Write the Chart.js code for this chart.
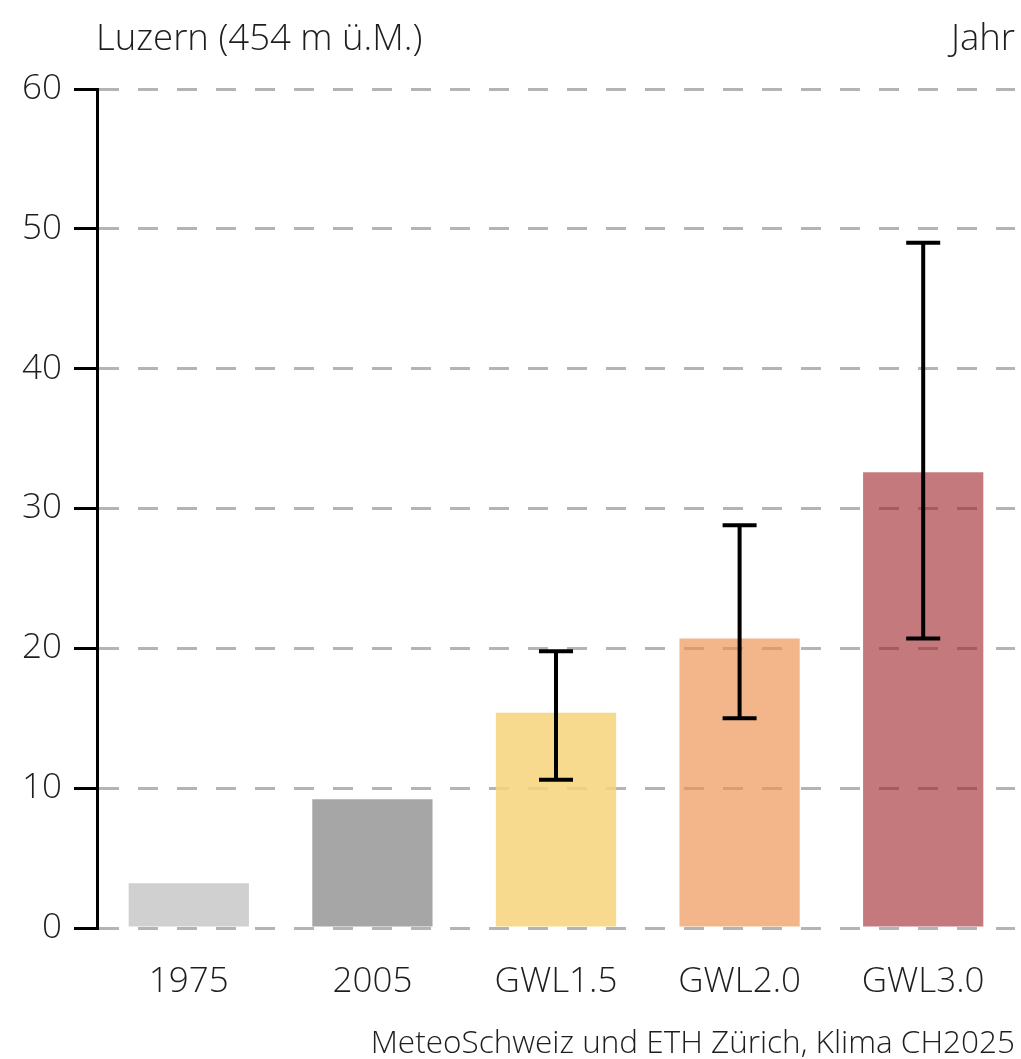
<!DOCTYPE html>
<html lang="de">

<head>
    <meta charset="UTF-8">
    <title>Luzern</title>
    <script src="https://cdn.jsdelivr.net/npm/chart.js@4.4.1/dist/chart.umd.min.js"></script>
    <style>
        body { margin: 0; background: #fff; font-family: "Open Sans", sans-serif; font-weight: 300; color: #1e1e1e; }
        .wrap { position: relative; width: 1021px; height: 1059px; }
        .lbl { position: absolute; white-space: nowrap; line-height: 1; }
        .title { left: 96px; top: 18px; font-size: 36.5px; }
        .unit { right: 6px; top: 18px; font-size: 36.5px; }
        .source { right: 6px; top: 1025px; font-size: 31.5px; }
    </style>
</head>

<body>
    <div class="wrap">
        <canvas id="chart" width="1021" height="1059"></canvas>
        <div class="lbl title">Luzern (454 m ü.M.)</div>
        <div class="lbl unit">Jahr</div>
        <div class="lbl source">MeteoSchweiz und ETH Zürich, Klima CH2025</div>
    </div>
    <script>
        var categories = ['1975', '2005', 'GWL1.5', 'GWL2.0', 'GWL3.0'];
        var values = [3.2, 9.2, 15.4, 20.7, 32.6];
        var errLow = [null, null, 10.6, 15.0, 20.7];
        var errHigh = [null, null, 19.8, 28.8, 49.0];
        var yTicks = [0, 10, 20, 30, 40, 50, 60];
        var barColors = [
            'rgba(208,208,208,1)',
            'rgba(166,166,166,1)',
            'rgba(247,213,126,0.87)',
            'rgba(237,146,82,0.67)',
            'rgba(157,33,37,0.6)'
        ];

        // whiskers drawn on top of the bars
        var errorBars = {
            id: 'errorBars',
            afterDatasetsDraw: function(chart) {
                var ctx = chart.ctx;
                var meta = chart.getDatasetMeta(0);
                var y = chart.scales.y;
                ctx.save();
                ctx.strokeStyle = '#000';
                ctx.lineWidth = 4;
                for (var i = 0; i < meta.data.length; i++) {
                    if (errLow[i] == null) continue;
                    var x = meta.data[i].x;
                    var y1 = y.getPixelForValue(errLow[i]);
                    var y2 = y.getPixelForValue(errHigh[i]);
                    ctx.beginPath();
                    ctx.moveTo(x, y1); ctx.lineTo(x, y2);
                    ctx.moveTo(x - 17, y1); ctx.lineTo(x + 17, y1);
                    ctx.moveTo(x - 17, y2); ctx.lineTo(x + 17, y2);
                    ctx.stroke();
                }
                ctx.restore();
            }
        };

        var tickFont = { family: 'Open Sans', size: 35, weight: '300' };

        var chart = new Chart(document.getElementById('chart'), {
            type: 'bar',
            data: {
                labels: categories,
                datasets: [{
                    data: values,
                    backgroundColor: barColors,
                    borderWidth: 0,
                    categoryPercentage: 1,
                    barPercentage: 0.655
                }]
            },
            options: {
                responsive: false,
                animation: false,
                events: [],
                layout: { padding: { top: 89, right: 6, bottom: 23, left: 0 } },
                plugins: { legend: { display: false }, tooltip: { enabled: false } },
                scales: {
                    x: {
                        grid: { display: false, drawTicks: false },
                        border: { display: false },
                        ticks: { padding: 33, color: '#1e1e1e', font: tickFont }
                    },
                    y: {
                        min: 0,
                        max: 60,
                        afterBuildTicks: function(scale) {
                            scale.ticks = yTicks.map(function(v) { return { value: v }; });
                        },
                        afterFit: function(scale) { scale.width = 97; },
                        grid: {
                            color: '#b4b4b4',
                            lineWidth: 3,
                            tickColor: '#000',
                            tickWidth: 3,
                            tickLength: 23,
                            tickBorderDash: []
                        },
                        border: { color: '#000', width: 3, dash: [20, 19] },
                        ticks: { padding: 12, color: '#1e1e1e', font: tickFont }
                    }
                }
            },
            plugins: [errorBars]
        });
    </script>
</body>

</html>
